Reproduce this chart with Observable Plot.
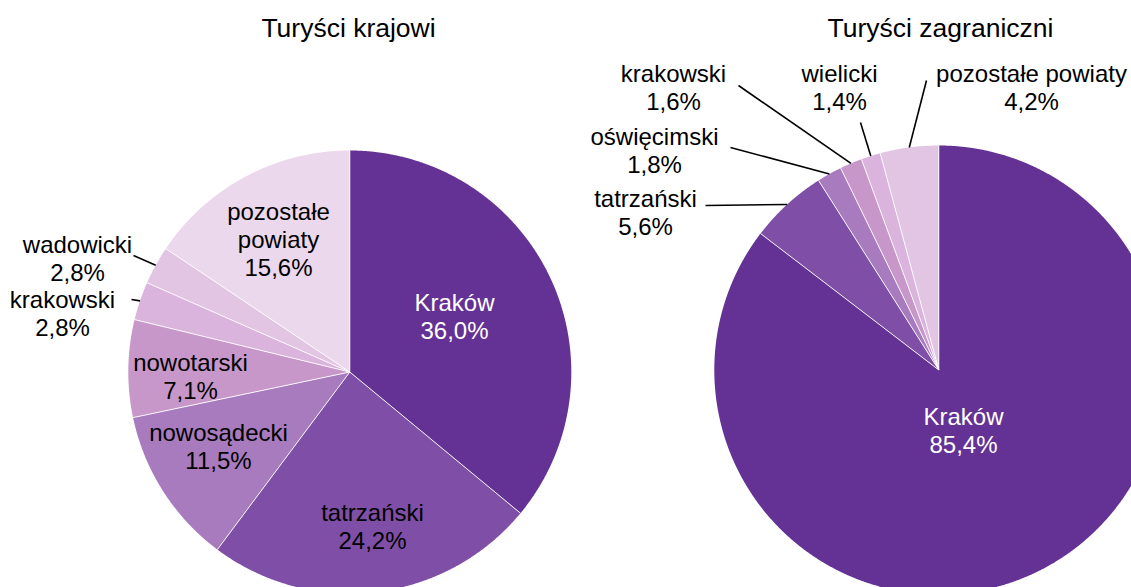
<!DOCTYPE html>
<html><head><meta charset="utf-8">
<script src="https://cdn.jsdelivr.net/npm/d3@7"></script>
<script src="https://cdn.jsdelivr.net/npm/@observablehq/plot@0.6"></script>
<style>
html,body{margin:0;padding:0;background:#fff;overflow:hidden;}
#chart svg{display:block;overflow:hidden;}
</style></head><body><div id="chart"></div>
<script>
// ---------- DATA ----------
const titles = ["Turyści krajowi", "Turyści zagraniczni"];
const domesticCategories = ["Kraków", "tatrzański", "nowosądecki", "nowotarski", "krakowski", "wadowicki", "pozostałe powiaty"];
const domesticShares = [36.0, 24.2, 11.5, 7.1, 2.8, 2.8, 15.6];
const foreignCategories = ["Kraków", "tatrzański", "oświęcimski", "krakowski", "wielicki", "pozostałe powiaty"];
const foreignShares = [85.4, 5.6, 1.8, 1.6, 1.4, 4.2];

// ---------- STYLE ----------
const domesticColors = ["#643294", "#7f4fa8", "#a87bbe", "#c797c9", "#dab4dd", "#e2c4e3", "#ebd8ec"];
const foreignColors = ["#643294", "#7f4fa8", "#a87bbe", "#c797c9", "#dab4dd", "#e2c4e3"];
const labelColorsDomestic = ["#fff", "#000", "#000", "#000", "#000", "#000", "#000"];
const labelColorsForeign = ["#fff", "#000", "#000", "#000", "#000", "#000"];
const FONT = "'Liberation Sans', Arial, Helvetica, sans-serif";

// ---------- LAYOUT (pixels) ----------
const W = 1131, H = 587;
const titleX = [348, 940], titleY = [36, 36];
const domesticCenter = [349.3, 371.5], domesticRadius = 221.5;
const foreignCenter = [938.3, 369.5], foreignRadius = 224.5;
// label anchor (x, baseline of last line)
const domesticLabelX = [454, 372, 218, 190, 62, 77, 278];
const domesticLabelY = [338, 548, 468, 398, 335, 280, 275];
const domesticWrap = [false, false, false, false, false, false, true];
const domesticLeader = [null, null, null, null, [131, 299], [133, 255], null];
const foreignLabelX = [963, 645, 654, 673, 839, 1031];
const foreignLabelY = [452, 234, 172, 109, 109, 109];
const foreignWrap = [false, false, false, false, false, false];
const foreignLeader = [null, [705, 205], [730, 147], [738, 85], [860, 122], [926, 80]];

const fmt = v => v.toFixed(1).replace(".", ",") + "%";

function buildPie(id, cats, vals, colors, center, r, lx, ly, wrap, leader, lcolors) {
  const arcs = d3.pie().sort(null).value(d => d)(vals);
  const polys = [], seps = [], labels = [], leaders = [];
  arcs.forEach((a, i) => {
    const key = id + i;
    const n = Math.max(2, Math.ceil((a.endAngle - a.startAngle) / (Math.PI / 720)));
    polys.push({key, x: center[0], y: center[1], fill: colors[i]});
    for (let j = 0; j <= n; j++) {
      const t = a.startAngle + (a.endAngle - a.startAngle) * j / n;
      polys.push({key, x: center[0] + r * Math.sin(t), y: center[1] - r * Math.cos(t), fill: colors[i]});
    }
    polys.push({key, x: center[0], y: center[1], fill: colors[i]});
    seps.push({x1: center[0], y1: center[1], x2: center[0] + r * Math.sin(a.startAngle), y2: center[1] - r * Math.cos(a.startAngle)});
    const name = wrap[i] ? cats[i].replace(" ", "\n") : cats[i];
    labels.push({x: lx[i], y: ly[i], text: name + "\n" + fmt(vals[i]), color: lcolors[i]});
    if (leader[i]) {
      const m = (a.startAngle + a.endAngle) / 2;
      leaders.push({x1: leader[i][0], y1: leader[i][1], x2: center[0] + r * Math.sin(m), y2: center[1] - r * Math.cos(m)});
    }
  });
  return {polys, seps, labels, leaders};
}

const P1 = buildPie("d", domesticCategories, domesticShares, domesticColors, domesticCenter, domesticRadius, domesticLabelX, domesticLabelY, domesticWrap, domesticLeader, labelColorsDomestic);
const P2 = buildPie("f", foreignCategories, foreignShares, foreignColors, foreignCenter, foreignRadius, foreignLabelX, foreignLabelY, foreignWrap, foreignLeader, labelColorsForeign);

const titleData = titles.map((t, i) => ({t, x: titleX[i], y: titleY[i]}));

const marks = [];
for (const P of [P1, P2]) {
  marks.push(Plot.line(P.polys, {x: "x", y: "y", z: "key", fill: "fill", stroke: "none", curve: "linear", clip: true}));
  marks.push(Plot.link(P.seps, {x1: "x1", y1: "y1", x2: "x2", y2: "y2", stroke: "#fff", strokeWidth: 0.9, clip: true}));
  marks.push(Plot.link(P.leaders, {x1: "x1", y1: "y1", x2: "x2", y2: "y2", stroke: "#000", strokeWidth: 1.6}));
  marks.push(Plot.text(P.labels, {x: "x", y: "y", text: "text", fill: "color", fontSize: 24, lineHeight: 1.15, lineAnchor: "bottom", textAnchor: "middle"}));
}
marks.push(Plot.text(titleData, {x: "x", y: "y", text: "t", fill: "#000", fontSize: 26.5, lineAnchor: "bottom", textAnchor: "middle"}));

const chart = Plot.plot({
  width: W, height: H, margin: 0,
  x: {domain: [0, W], range: [0, W], axis: null},
  y: {domain: [0, H], range: [0, H], axis: null},
  color: {type: "identity"},
  style: {fontFamily: FONT, background: "#fff", color: "#000"},
  marks
});
document.getElementById("chart").appendChild(chart);
</script></body></html>
